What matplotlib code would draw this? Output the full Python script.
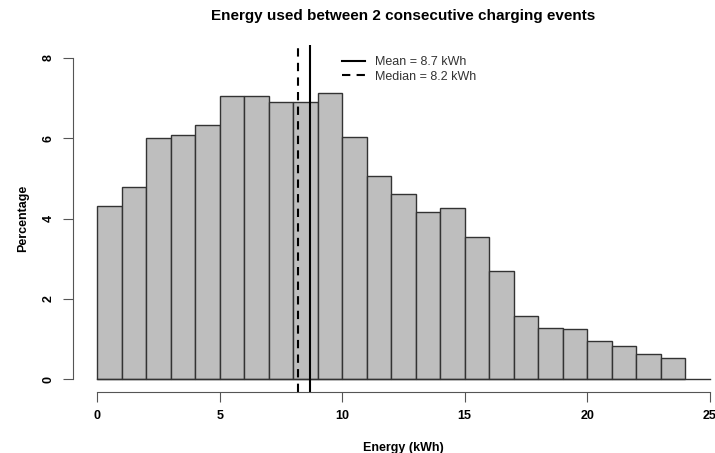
import numpy as np
import matplotlib
matplotlib.use('Agg')
import matplotlib.pyplot as plt
from matplotlib.lines import Line2D

plt.rcParams['font.family'] = ['Liberation Sans', 'DejaVu Sans']

# histogram bins (kWh) and percentages
bin_edges = list(range(0, 25))
percentages = [4.30, 4.79, 6.01, 6.09, 6.32, 7.05, 7.05, 6.91, 6.91, 7.12,
               6.03, 5.05, 4.62, 4.17, 4.27, 3.54, 2.69, 1.57, 1.28, 1.25,
               0.96, 0.82, 0.63, 0.53]
mean_kwh = 8.7
median_kwh = 8.2
xticks = [0, 5, 10, 15, 20, 25]
yticks = [0, 2, 4, 6, 8]

fig = plt.figure(figsize=(7.15, 4.53), dpi=100)
ax = fig.add_axes([73/715, 61/453, 661/715, 347/453])

lefts = np.array(bin_edges[:-1])
ax.bar(lefts, percentages, width=1, align='edge', color='#BEBEBE',
       edgecolor='#333333', linewidth=1)
ax.plot([0, 25], [0, 0], color='#333333', lw=1)

ax.axvline(mean_kwh, color='black', lw=1.5)
ax.axvline(median_kwh, color='black', lw=1.5, ls=(0, (4, 3)))

ax.set_xlim(-1, 26)
ax.set_ylim(-0.32, 8.32)

for s in ['top', 'right']:
    ax.spines[s].set_visible(False)
ax.spines['left'].set_bounds(0, 8)
ax.spines['bottom'].set_bounds(0, 25)
for s in ['left', 'bottom']:
    ax.spines[s].set_color('#555555')
ax.set_xticks(xticks)
ax.set_yticks(yticks)
ax.tick_params(length=7, color='#555555', labelsize=9)
ax.set_xticklabels([str(t) for t in xticks], fontweight='bold')
ax.set_yticklabels([str(t) for t in yticks], fontweight='bold',
                   rotation=90, va='center')
ax.tick_params(axis='y', pad=6)
ax.tick_params(axis='x', pad=6)

ax.set_xlabel('Energy (kWh)', fontweight='bold', fontsize=9, labelpad=14)
ax.set_ylabel('Percentage', fontweight='bold', fontsize=9, labelpad=10)
fig.text(403.5/715, 1 - 16/453, 'Energy used between 2 consecutive charging events',
         ha='center', va='center', fontweight='bold', fontsize=11)

handles = [Line2D([], [], color='black', lw=1.5),
           Line2D([], [], color='black', lw=1.5, ls=(0, (4, 3)))]
ax.legend(handles, ['Mean = %.1f kWh' % mean_kwh, 'Median = %.1f kWh' % median_kwh],
          frameon=False, fontsize=9, loc='upper left',
          bbox_to_anchor=(258/661, 1.0), handlelength=1.8,
          labelspacing=0.2, labelcolor='#333333')

fig.savefig('out.png', dpi=100)
